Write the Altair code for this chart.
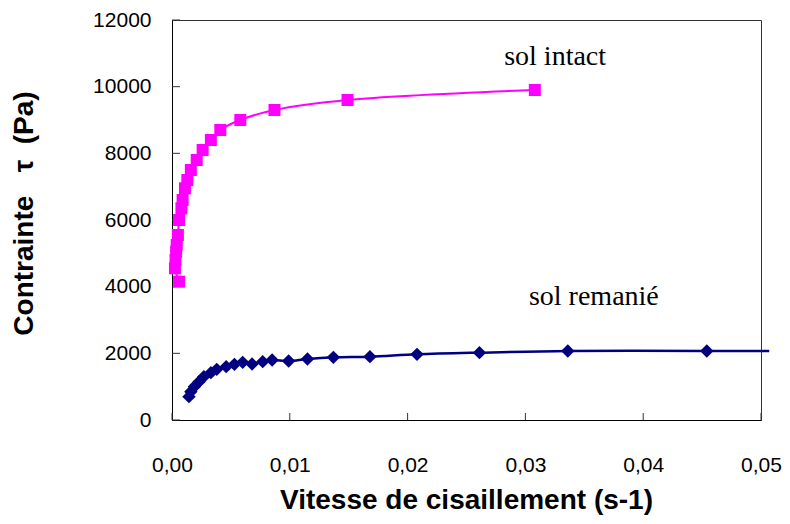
import altair as alt
import pandas as pd

# --- data ---
intact_x = [0.0006, 0.00025, 0.0003, 0.00035, 0.0004, 0.0005, 0.0006, 0.0008, 0.0009,
            0.0011, 0.0013, 0.0016, 0.0021, 0.0026, 0.0033, 0.0041, 0.0058, 0.0087,
            0.0149, 0.0308]
intact_y = [4150, 4550, 4800, 5050, 5250, 5550, 6000, 6350, 6600,
            6950, 7200, 7500, 7800, 8100, 8400, 8700, 9000, 9300,
            9600, 9900]

remanie_x = [0.00144, 0.0016, 0.0019, 0.0023, 0.0027, 0.0033, 0.0038, 0.0046, 0.0053,
             0.0060, 0.0068, 0.0077, 0.0085, 0.0099, 0.0115, 0.0137, 0.0168, 0.0208,
             0.0261, 0.0336, 0.0454]
remanie_y = [700, 850, 1000, 1150, 1300, 1420, 1520, 1600, 1670,
             1730, 1680, 1750, 1800, 1770, 1830, 1880, 1900, 1970,
             2020, 2070, 2070]
# the drawn line runs on past the last marker
remanie_line_end_x = [0.0507]
remanie_line_end_y = [2070]

x_ticks = [0.0, 0.01, 0.02, 0.03, 0.04, 0.05]
y_ticks = [0, 2000, 4000, 6000, 8000, 10000, 12000]

label_text = ["sol intact", "sol remanié"]
label_x = [0.0282, 0.0303]
label_y = [10650, 3450]

# --- tables ---
df_int = pd.DataFrame({"x": intact_x, "y": intact_y, "i": range(len(intact_x))})
df_rem = pd.DataFrame({"x": remanie_x, "y": remanie_y, "i": range(len(remanie_x))})
df_rem_line = pd.DataFrame({
    "x": remanie_x + remanie_line_end_x,
    "y": remanie_y + remanie_line_end_y,
    "i": range(len(remanie_x) + len(remanie_line_end_x)),
})
df_lab = pd.DataFrame({"x": label_x, "y": label_y, "t": label_text})
df_xt = pd.DataFrame({"x": x_ticks})
df_yt = pd.DataFrame({"y": y_ticks})

xs = alt.Scale(domain=[0, 0.05], nice=False, zero=True)
ys = alt.Scale(domain=[0, 12000], nice=False)

xaxis = alt.Axis(
    values=x_ticks, format=".2f", labelExpr="replace(datum.label, '.', ',')",
    ticks=False, grid=False, domainColor="black", domainWidth=1,
    labelFont="Liberation Sans", labelFontSize=21, labelColor="black",
    labelPadding=34, labelFlush=False,
    title="Vitesse de cisaillement (s-1)", titleFont="Liberation Sans",
    titleFontSize=28, titleFontWeight="bold", titleColor="black",
    titleX=294, titleY=80, titleAlign="center", titleBaseline="middle",
)
yaxis = alt.Axis(
    values=y_ticks, format="d", ticks=False, grid=False,
    domainColor="black", domainWidth=1,
    labelFont="Liberation Sans", labelFontSize=21, labelColor="black",
    labelPadding=21, labelFlush=False,
    title="Contrainte\u00a0\u00a0\u00a0τ\u00a0\u00a0(Pa)", titleFont="Liberation Sans",
    titleFontSize=28, titleFontWeight="bold", titleColor="black",
    titleX=-148, titleY=193, titleAlign="center", titleBaseline="middle",
    titleAngle=270,
)

X = alt.X("x:Q", scale=xs, axis=xaxis)
Y = alt.Y("y:Q", scale=ys, axis=yaxis)

pink = "#FF00FF"
navy = "#000080"

int_line = alt.Chart(df_int).mark_line(
    color=pink, strokeWidth=2, interpolate="catmull-rom"
).encode(x=X, y=Y, order="i:Q")
int_pts = alt.Chart(df_int).mark_point(
    shape="square", filled=True, size=144, color=pink, opacity=1
).encode(x=X, y=Y)

rem_line = alt.Chart(df_rem_line).mark_line(
    color=navy, strokeWidth=2.5, interpolate="catmull-rom", clip=False
).encode(x=X, y=Y, order="i:Q")
rem_pts = alt.Chart(df_rem).mark_point(
    shape="diamond", filled=True, size=180, color=navy, opacity=1
).encode(x=X, y=Y)

labels = alt.Chart(df_lab).mark_text(
    font="Liberation Serif", fontSize=28, align="left", baseline="alphabetic", color="black"
).encode(x=X, y=Y, text="t:N")

# inward tick marks
xt = alt.Chart(df_xt).mark_rule(color="#333", strokeWidth=1).encode(
    x=X, y=alt.value(400), y2=alt.value(393)
)
yt = alt.Chart(df_yt).mark_rule(color="#333", strokeWidth=1).encode(
    y=Y, x=alt.value(0), x2=alt.value(8)
)

chart = alt.layer(xt, yt, int_line, rem_line, int_pts, rem_pts, labels).properties(
    width=589, height=400,
    padding={"left": 164, "top": 12, "right": 21, "bottom": 96},
    autosize=alt.AutoSizeParams(type="none"),
).configure_view(stroke="#333", strokeWidth=1)

chart.save("out.html", embed_options={"renderer": "svg", "actions": False})
